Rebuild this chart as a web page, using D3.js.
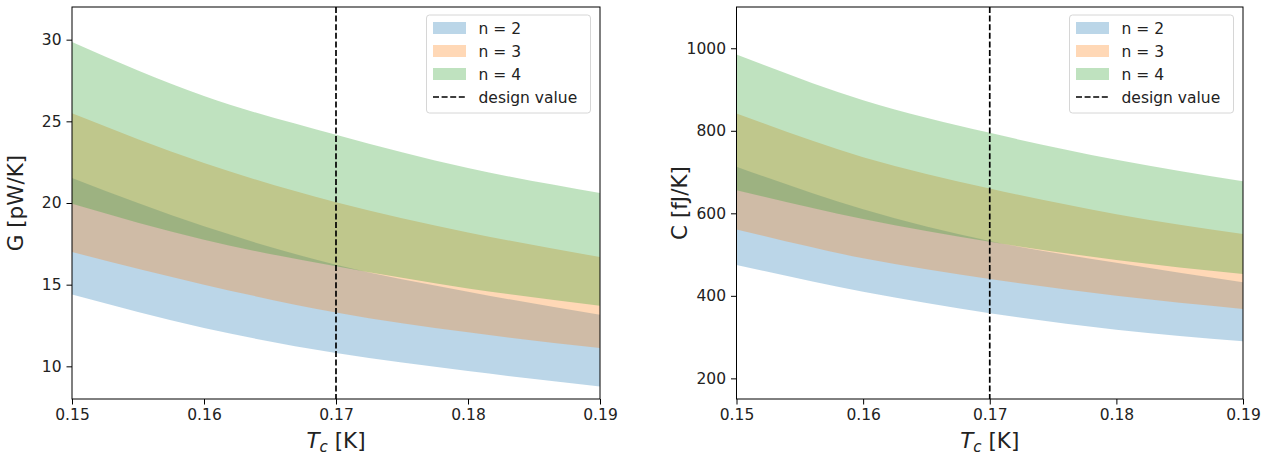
<!DOCTYPE html>
<html>
<head>
<meta charset="utf-8">
<title>G and C vs Tc</title>
<script src="https://cdn.jsdelivr.net/npm/d3@7"></script>
<style>
  body { margin: 0; background: #fff; }
  svg text { font-family: "DejaVu Sans", sans-serif; fill: #222; }
</style>
</head>
<body>
<div id="chart"></div>
<script>

// critical temperature samples [K]
var tcValues = [0.15, 0.16, 0.17, 0.18, 0.19];
var designTc = 0.17;

// thermal conductance G [pW/K], lower / upper edge of each band
var gLow2  = [14.4, 12.35, 10.81, 9.71, 8.77];
var gHigh2 = [21.53, 18.57, 16.22, 14.57, 13.16];
var gLow3  = [17.0, 15.0, 13.3, 12.08, 11.12];
var gHigh3 = [25.5, 22.45, 20.04, 18.2, 16.69];
var gLow4  = [19.96, 17.75, 16.12, 14.77, 13.71];
var gHigh4 = [29.86, 26.55, 24.18, 22.14, 20.61];

// heat capacity C [fJ/K]
var cLow2  = [475, 410, 358, 318, 290];
var cHigh2 = [713, 610, 533, 480, 433];
var cLow3  = [561, 491, 441, 400, 368];
var cHigh3 = [842, 736, 660, 598, 550];
var cLow4  = [656, 586, 531, 487, 453];
var cHigh4 = [985, 874, 795, 730, 678];

var seriesLabels = ["n = 2", "n = 3", "n = 4"];
var seriesColors = ["#1f77b4", "#ff7f0e", "#2ca02c"];
var designLabel = "design value";

var xTicks = [0.15, 0.16, 0.17, 0.18, 0.19];
var gTicks = [10, 15, 20, 25, 30];
var cTicks = [200, 400, 600, 800, 1000];

var svg = d3.select("#chart").append("svg")
    .attr("width", 1271)
    .attr("height", 456);

drawPanel({
    left: 72, right: 600, top: 7, bottom: 399,
    yDomain: [8, 32], yTicks: gTicks,
    bands: [[gLow2, gHigh2], [gLow3, gHigh3], [gLow4, gHigh4]],
    yLabel: "G [pW/K]", yLabelX: 23
});

drawPanel({
    left: 736.5, right: 1243, top: 7, bottom: 399,
    yDomain: [150, 1100], yTicks: cTicks,
    bands: [[cLow2, cHigh2], [cLow3, cHigh3], [cLow4, cHigh4]],
    yLabel: "C [fJ/K]", yLabelX: 687
});

function drawPanel(p) {
    var x = d3.scaleLinear().domain([0.15, 0.19]).range([p.left, p.right]);
    var y = d3.scaleLinear().domain(p.yDomain).range([p.bottom, p.top]);
    var g = svg.append("g");

    p.bands.forEach(function(band, i) {
        var area = d3.area()
            .x(function(d, j) { return x(tcValues[j]); })
            .y0(function(d, j) { return y(band[0][j]); })
            .y1(function(d, j) { return y(band[1][j]); })
            .curve(d3.curveMonotoneX);
        g.append("path")
            .attr("d", area(tcValues))
            .attr("fill", seriesColors[i])
            .attr("fill-opacity", 0.3);
    });

    // design value line
    g.append("line")
        .attr("x1", x(designTc)).attr("x2", x(designTc))
        .attr("y1", p.top).attr("y2", p.bottom)
        .attr("stroke", "#000")
        .attr("stroke-width", 1.7)
        .attr("stroke-dasharray", "6,2.6");

    var xAxis = g.append("g")
        .attr("transform", "translate(0," + p.bottom + ")")
        .call(d3.axisBottom(x).tickValues(xTicks).tickFormat(d3.format(".2f")).tickSize(5.5).tickPadding(4));
    var yAxis = g.append("g")
        .attr("transform", "translate(" + p.left + ",0)")
        .call(d3.axisLeft(y).tickValues(p.yTicks).tickFormat(d3.format("d")).tickSize(5.5).tickPadding(5));
    [xAxis, yAxis].forEach(function(a) {
        a.select(".domain").remove();
        a.selectAll("line").attr("stroke", "#000").attr("stroke-width", 1);
        a.selectAll("text").attr("font-size", 15.5).attr("fill", "#222")
            .attr("font-family", "DejaVu Sans, sans-serif");
    });

    // frame
    g.append("rect")
        .attr("x", p.left).attr("y", p.top)
        .attr("width", p.right - p.left).attr("height", p.bottom - p.top)
        .attr("fill", "none").attr("stroke", "#000").attr("stroke-width", 1);

    // x label  T_c [K]
    var xl = g.append("text")
        .attr("x", (p.left + p.right) / 2)
        .attr("y", 448)
        .attr("text-anchor", "middle")
        .attr("font-size", 21.5);
    xl.append("tspan").attr("font-style", "italic").text("T");
    xl.append("tspan").attr("font-style", "italic").attr("font-size", 15).attr("dy", 4).text("c");
    xl.append("tspan").attr("dy", -4).text(" [K]");

    g.append("text")
        .attr("transform", "translate(" + p.yLabelX + "," + ((p.top + p.bottom) / 2) + ") rotate(-90)")
        .attr("text-anchor", "middle")
        .attr("font-size", 21.5)
        .text(p.yLabel);

    // legend
    var lx = p.right - 173.5, ly = 15;
    var leg = g.append("g").attr("transform", "translate(" + lx + "," + ly + ")");
    leg.append("rect")
        .attr("width", 164).attr("height", 98)
        .attr("rx", 3)
        .attr("fill", "#fff").attr("fill-opacity", 0.8)
        .attr("stroke", "#d6d6d6");
    seriesLabels.forEach(function(label, i) {
        var cy = 13 + i * 23;
        leg.append("rect")
            .attr("x", 6.5).attr("y", cy - 6)
            .attr("width", 33).attr("height", 12)
            .attr("fill", seriesColors[i]).attr("fill-opacity", 0.3);
        leg.append("text")
            .attr("x", 52).attr("y", cy + 5.5)
            .attr("font-size", 15.5)
            .text(label);
    });
    var dy = 13 + 3 * 23;
    leg.append("line")
        .attr("x1", 6.5).attr("x2", 39.5)
        .attr("y1", dy).attr("y2", dy)
        .attr("stroke", "#000").attr("stroke-width", 1.7)
        .attr("stroke-dasharray", "6,2.6");
    leg.append("text")
        .attr("x", 52).attr("y", dy + 5.5)
        .attr("font-size", 15.5)
        .text(designLabel);
}
</script>
</body>
</html>
